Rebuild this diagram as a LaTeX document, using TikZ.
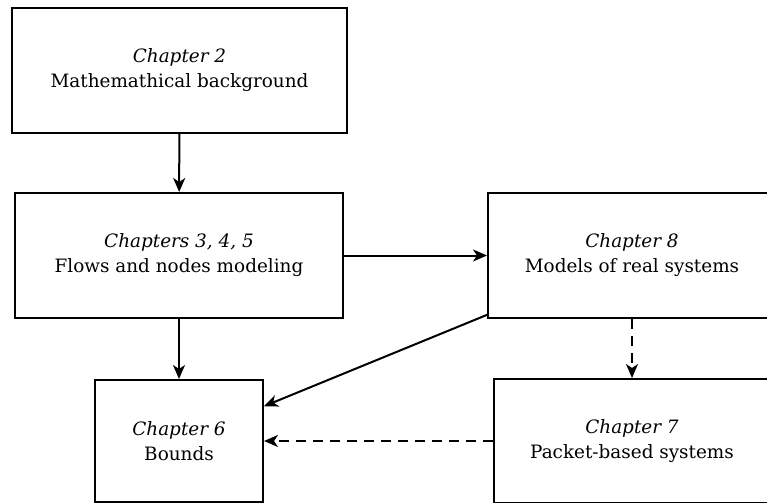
\documentclass[tikz,border=0pt]{standalone}
\usepackage{fontspec}
\setmainfont{DejaVu Serif}
\usetikzlibrary{arrows.meta}
\tikzset{
  chapbox/.style={draw, line width=1pt, align=center, inner sep=0pt,
    font=\fontsize{9.2pt}{12.5pt}\selectfont},
  link/.style={line width=1pt, -{Stealth[length=7pt,width=6pt,inset=2pt]}},
  weaklink/.style={link, dash pattern=on 5pt off 3.5pt}
}
\begin{document}
\begin{tikzpicture}[x=0.5pt, y=-0.5pt]
        \useasboundingbox (0,0) rectangle (767,503);
        % Chapter boxes
        \node[chapbox, minimum width=167.5pt, minimum height=62.5pt] (chap2) at (179.5,70.5)
          {\textit{Chapter 2}\\Mathemathical background};
        \node[chapbox, minimum width=164pt, minimum height=62.5pt] (chap345) at (179,255.5)
          {\textit{Chapters 3, 4, 5}\\Flows and nodes modeling};
        \node[chapbox, minimum width=144pt, minimum height=62.5pt] (chap8) at (632,255.5)
          {\textit{Chapter 8}\\Models of real systems};
        \node[chapbox, minimum width=84pt, minimum height=61pt] (chap6) at (179,441)
          {\textit{Chapter 6}\\Bounds};
        \node[chapbox, minimum width=138pt, minimum height=62pt] (chap7) at (632,441)
          {\textit{Chapter 7}\\Packet-based systems};
        % Dependencies
        \draw[link] (chap2) -- (chap345);
        \draw[link] (chap345) -- (chap8);
        \draw[link] (chap345) -- (chap6);
        \draw[link] (chap8) -- (chap6);
        % Optional reading
        \draw[weaklink] (chap8) -- (chap7);
        \draw[weaklink] (chap7) -- (chap6);
      \end{tikzpicture}
\end{document}
